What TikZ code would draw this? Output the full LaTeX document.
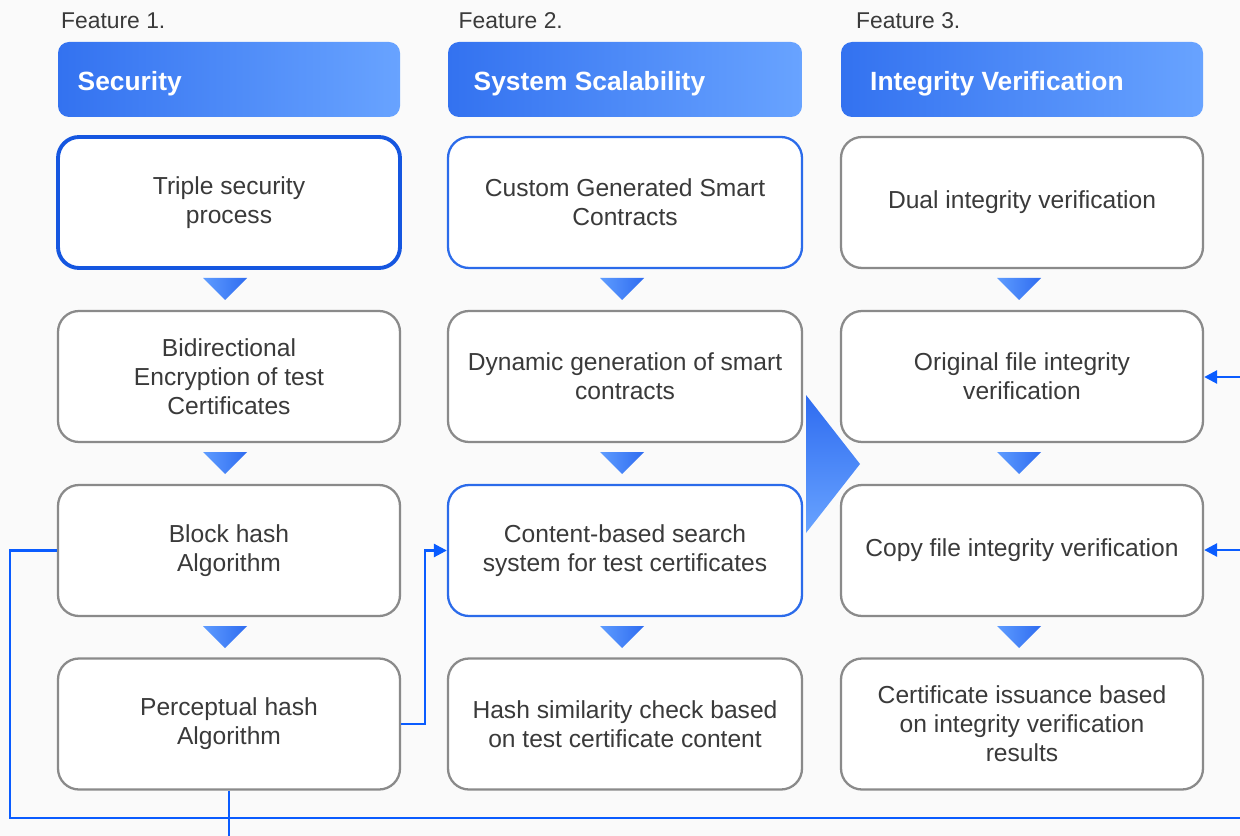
\documentclass[tikz,border=0pt]{standalone}
\usepackage{fontspec}
\setmainfont{Liberation Sans}
\usepackage{xcolor}
\usepackage{tikz}
\usetikzlibrary{arrows.meta}

\definecolor{txtgray}{HTML}{3A3A3A}
\definecolor{boxgray}{HTML}{8A8A8A}
\definecolor{linkblue}{HTML}{0A5CFF}
\definecolor{hotblue}{HTML}{1556E0}
\definecolor{softblue}{HTML}{2B6BEA}
\definecolor{headA}{HTML}{3372F0}
\definecolor{headB}{HTML}{68A3FF}
\definecolor{triA}{HTML}{5E9CFF}
\definecolor{triB}{HTML}{2F6CF0}
\definecolor{bgpaper}{HTML}{FAFAFA}

\tikzset{
  featlbl/.style={anchor=west, text=txtgray, font=\fontsize{13}{15}\selectfont},
  headbox/.style={rounded corners=0.22cm, left color=headA, right color=headB, minimum height=1.5cm},
  headtxt/.style={anchor=west, text=white, font=\bfseries\fontsize{15}{18}\selectfont},
  stepbox/.style={draw=boxgray, line width=1.3pt, rounded corners=0.42cm, fill=white,
    minimum height=2.62cm, align=center, text=txtgray, font=\fontsize{14}{16.5}\selectfont},
  hotbox/.style={stepbox, draw=hotblue, line width=2.2pt},
  softbox/.style={stepbox, draw=softblue},
  link/.style={draw=linkblue, line width=1.5pt},
  linkarrow/.style={link, -{Triangle[length=2.6mm,width=2.6mm]}}
}

\begin{document}
\begin{tikzpicture}
\useasboundingbox (0,0) rectangle (24.8,-16.72);
\fill[bgpaper] (0,0) rectangle (24.8,-16.72);

% feature labels
\node[featlbl] (f1) at (1.1,-0.42) {Feature 1.};
\node[featlbl] (f2) at (9.05,-0.42) {Feature 2.};
\node[featlbl] (f3) at (17.0,-0.42) {Feature 3.};

% headers
\node[headbox, minimum width=6.84cm] (h1) at (4.58,-1.59) {};
\node[headbox, minimum width=7.08cm] (h2) at (12.5,-1.59) {};
\node[headbox, minimum width=7.24cm] (h3) at (20.44,-1.59) {};
\node[headtxt] (h1t) at (1.43,-1.68) {Security};
\node[headtxt] (h2t) at (9.35,-1.68) {System Scalability};
\node[headtxt] (h3t) at (17.28,-1.68) {Integrity Verification};

% big arrow between columns
\shade[top color=triB, bottom color=headB] (16.12,-7.9) -- (17.2,-9.28) -- (16.12,-10.66) -- cycle;

% column 1
\node[hotbox, minimum width=6.84cm] (a1) at (4.58,-4.05) {Triple security\\process};
\node[stepbox, minimum width=6.84cm] (a2) at (4.58,-7.53) {Bidirectional\\Encryption of test\\Certificates};
\node[stepbox, minimum width=6.84cm] (a3) at (4.58,-11.01) {Block hash\\Algorithm};
\node[stepbox, minimum width=6.84cm] (a4) at (4.58,-14.48) {Perceptual hash\\Algorithm};

% column 2
\node[softbox, minimum width=7.08cm] (b1) at (12.5,-4.05) {Custom Generated Smart\\Contracts};
\node[stepbox, minimum width=7.08cm] (b2) at (12.5,-7.53) {Dynamic generation of smart\\contracts};
\node[softbox, minimum width=7.08cm] (b3) at (12.5,-11.01) {Content-based search\\system for test certificates};
\node[stepbox, minimum width=7.08cm] (b4) at (12.5,-14.48) {Hash similarity check based\\on test certificate content};

% column 3
\node[stepbox, minimum width=7.24cm] (c1) at (20.44,-4.05) {Dual integrity verification};
\node[stepbox, minimum width=7.24cm] (c2) at (20.44,-7.53) {Original file integrity\\verification};
\node[stepbox, minimum width=7.24cm] (c3) at (20.44,-11.01) {Copy file integrity verification};
\node[stepbox, minimum width=7.24cm] (c4) at (20.44,-14.48) {Certificate issuance based\\on integrity verification\\results};

% small down triangles
\foreach \x in {4.5,12.44,20.38}
  \foreach \y in {-5.56,-9.04,-12.52}
    \shade[left color=triA, right color=triB] (\x-0.44,\y) -- (\x+0.44,\y) -- (\x,\y-0.44) -- cycle;

% connectors
\coordinate (lowright) at (24.8,-16.36);
\coordinate (lowedge) at (4.58,-16.72);
\coordinate (in1) at (24.8,-7.54);
\coordinate (in2) at (24.8,-11.0);
\draw[link] (a3.west) -- (0.2,-11.01) -- (0.2,-16.36) -- (lowright);
\draw[link] (a4.south) -- (lowedge);
\draw[linkarrow] (a4.east) -- ++(0.48,0) |- (b3.west);
\draw[linkarrow] (in1) -- (c2.east |- in1);
\draw[linkarrow] (in2) -- (c3.east |- in2);
\end{tikzpicture}
\end{document}
